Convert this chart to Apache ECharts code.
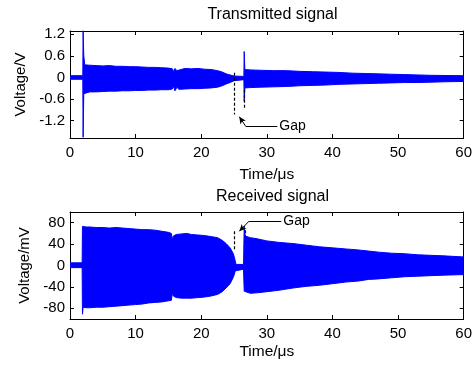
<!DOCTYPE html>
<html><head><meta charset="utf-8">
<script src="https://cdn.jsdelivr.net/npm/echarts@6/dist/echarts.min.js"></script>
<style>html,body{margin:0;padding:0;background:#fff}#c{width:475px;height:365px}</style>
</head><body><div id="c"></div>
<script>
// Transmitted signal envelope (time in µs, voltage in V)
const txTime  = [0, 1.95, 2.0, 2.1, 2.25, 3, 4, 5, 6, 7, 8, 9, 10, 11, 12, 13, 14, 15, 15.6, 15.75, 16.0, 16.3, 16.6, 17.5, 18.5, 19.5, 20.5, 21.5, 22.5, 23.2, 23.8, 24.4, 25.0, 25.3, 26.5, 26.55, 26.65, 27.5, 29, 31, 33, 35, 37, 39, 41, 43, 45, 47, 49, 51, 53, 55, 57, 60];
const txUpper = [0.05, 0.05, 1.3, 0.6, 0.35, 0.34, 0.33, 0.32, 0.33, 0.31, 0.31, 0.30, 0.30, 0.29, 0.28, 0.28, 0.27, 0.26, 0.24, 0.16, 0.25, 0.19, 0.24, 0.25, 0.24, 0.25, 0.23, 0.22, 0.19, 0.15, 0.10, 0.07, 0.04, 0.03, 0.03, 0.72, 0.22, 0.21, 0.20, 0.19, 0.19, 0.17, 0.16, 0.15, 0.14, 0.12, 0.11, 0.10, 0.09, 0.08, 0.07, 0.06, 0.055, 0.05];
const txLower = [-0.05, -0.05, -1.66, -0.45, -0.41, -0.40, -0.40, -0.39, -0.38, -0.38, -0.37, -0.37, -0.36, -0.36, -0.35, -0.35, -0.34, -0.34, -0.32, -0.24, -0.37, -0.27, -0.33, -0.32, -0.31, -0.31, -0.30, -0.29, -0.27, -0.23, -0.18, -0.14, -0.09, -0.06, -0.06, -0.66, -0.29, -0.28, -0.27, -0.26, -0.25, -0.23, -0.22, -0.21, -0.19, -0.18, -0.17, -0.16, -0.15, -0.14, -0.14, -0.13, -0.12, -0.11];

// Received signal envelope (time in µs, voltage in mV)
const rxTime  = [0, 1.85, 1.9, 2.0, 2.5, 3, 4, 5, 6, 7, 8, 9, 10, 11, 12, 13, 14, 15, 15.45, 15.6, 15.75, 16.2, 17.0, 17.8, 18.5, 19.5, 20.5, 21.5, 22.5, 23.2, 23.8, 24.4, 24.9, 25.2, 25.3, 26.45, 26.55, 26.7, 27.5, 28.5, 30, 32, 34, 36, 38, 40, 42, 44, 45.5, 47, 49, 51, 53, 55, 57, 60];
const rxUpper = [5, 5, 73, 72, 72, 72, 71, 71, 70, 71, 70, 69, 68, 67, 67, 66, 64, 62, 60, 48, 55, 58, 59, 60, 58, 57, 56, 54, 52, 47, 41, 33, 22, 8, 2, 2, 74, 55, 52, 50, 46, 43, 41, 38, 35, 33, 31, 29, 27, 25, 23, 22, 20, 19, 18, 16];
const rxLower = [-4, -4, -91, -78, -79, -79, -78, -78, -77, -76, -75, -74, -73, -72, -70, -69, -68, -66, -65, -52, -57, -60, -61, -61, -61, -60, -59, -57, -54, -49, -42, -34, -22, -10, -7, -7, -48, -49, -52, -51, -49, -46, -42, -39, -37, -34, -31, -29, -26, -25, -23, -21, -20, -19, -18, -17];

const xTicks  = [0, 10, 20, 30, 40, 50, 60];
const txTicks = [-1.2, -0.6, 0, 0.6, 1.2];
const rxTicks = [-80, -40, 0, 40, 80];

// "Gap" annotation anchors (data coordinates)
const txGapLines = [[25.05, 0.13, -1.03], [26.6, -0.34, -0.89]];
const txGapArrow = {from: [26.8, -1.36], to: [25.8, -1.09], textAt: [31.6, -1.36]};
const rxGapLines = [[25.05, 64, 27], [26.65, 66, 42]];
const rxGapArrow = {from: [27.3, 83], to: [25.8, 64], textAt: [32.2, 83]};

const FONT = '"Liberation Sans", Arial, sans-serif';
const BLUE = '#0000ff';
const chart = echarts.init(document.getElementById('c'), null, {renderer: 'canvas'});

function xAx(grid, pos, showLabel, name, gap) {
  return {
    type: 'value', gridIndex: grid, position: pos, min: xTicks[0], max: xTicks[xTicks.length - 1], interval: 10,
    name: name || '', nameLocation: 'middle', nameGap: gap || 27,
    nameTextStyle: {fontFamily: FONT, fontSize: 15.5, color: '#000'},
    axisLine: {show: true, onZero: false, lineStyle: {color: '#000', width: 1}},
    axisTick: {show: true, inside: true, length: 4, lineStyle: {color: '#000'}},
    axisLabel: {show: showLabel, fontFamily: FONT, fontSize: 15, color: '#000', margin: 7},
    splitLine: {show: false}
  };
}
function yAx(grid, pos, showLabel, min, max, ticks, name) {
  return {
    type: 'value', gridIndex: grid, position: pos, min: min, max: max,
    name: name || '', nameLocation: 'middle', nameGap: 38,
    nameTextStyle: {fontFamily: FONT, fontSize: 15, color: '#000'},
    axisLine: {show: true, onZero: false, lineStyle: {color: '#000', width: 1}},
    axisTick: {show: true, inside: true, length: 4, customValues: ticks, lineStyle: {color: '#000'}},
    axisLabel: {show: showLabel, customValues: ticks, fontFamily: FONT, fontSize: 15, color: '#000', margin: 5},
    splitLine: {show: false}
  };
}
function band(xi, yi, time, vals, origin, mark) {
  const s = {
    type: 'line', xAxisIndex: xi, yAxisIndex: yi,
    data: time.map((t, i) => [t, vals[i]]),
    showSymbol: false, symbol: 'none', clip: true,
    lineStyle: {color: BLUE, width: 1},
    areaStyle: {color: BLUE, opacity: 1, origin: origin},
    itemStyle: {color: BLUE}
  };
  if (mark) s.markLine = mark;
  return s;
}
function gapMark(lines, arrow) {
  const dash = {color: '#000', width: 1.2, type: [3, 2]};
  const solid = {color: '#000', width: 1, type: 'solid'};
  const data = lines.map(l => [
    {coord: [l[0], l[1]], symbol: 'none', lineStyle: dash},
    {coord: [l[0], l[2]], symbol: 'none'}
  ]);
  data.push([
    {coord: arrow.from, symbol: 'none', lineStyle: solid},
    {coord: arrow.to, symbol: 'arrow', symbolSize: [5, 7]}
  ]);
  data.push([
    {coord: arrow.from, symbol: 'none', lineStyle: solid,
     label: {show: true, position: 'end', formatter: 'Gap', distance: 2, fontFamily: FONT, fontSize: 14, color: '#000'}},
    {coord: arrow.textAt, symbol: 'none'}
  ]);
  return {silent: true, animation: false, symbol: 'none', label: {show: false}, lineStyle: dash, data: data};
}

chart.setOption({
  animation: false,
  backgroundColor: '#fff',
  title: [
    {text: 'Transmitted signal', left: 267.5, top: 2, textAlign: 'center',
     textStyle: {fontFamily: FONT, fontSize: 16, fontWeight: 'normal', color: '#000'}},
    {text: 'Received signal', left: 267.5, top: 184, textAlign: 'center',
     textStyle: {fontFamily: FONT, fontSize: 16, fontWeight: 'normal', color: '#000'}}
  ],
  grid: [
    {left: 70, right: 10, top: 31, height: 107, containLabel: false},
    {left: 70, right: 10, top: 212, height: 107, containLabel: false}
  ],
  xAxis: [
    xAx(0, 'bottom', true, 'Time/\u03bcs', 29), xAx(0, 'top', false),
    xAx(1, 'bottom', true, 'Time/\u03bcs', 25), xAx(1, 'top', false)
  ],
  yAxis: [
    yAx(0, 'left', true, -1.68, 1.29, txTicks, 'Voltage/V'), yAx(0, 'right', false, -1.68, 1.29, txTicks),
    yAx(1, 'left', true, -100, 100, rxTicks, 'Voltage/mV'), yAx(1, 'right', false, -100, 100, rxTicks)
  ],
  series: [
    band(0, 0, txTime, txUpper, -0.04, gapMark(txGapLines, txGapArrow)),
    band(0, 0, txTime, txLower, 0),
    band(2, 2, rxTime, rxUpper, -3, gapMark(rxGapLines, rxGapArrow)),
    band(2, 2, rxTime, rxLower, 0)
  ]
});
</script>
</body></html>
